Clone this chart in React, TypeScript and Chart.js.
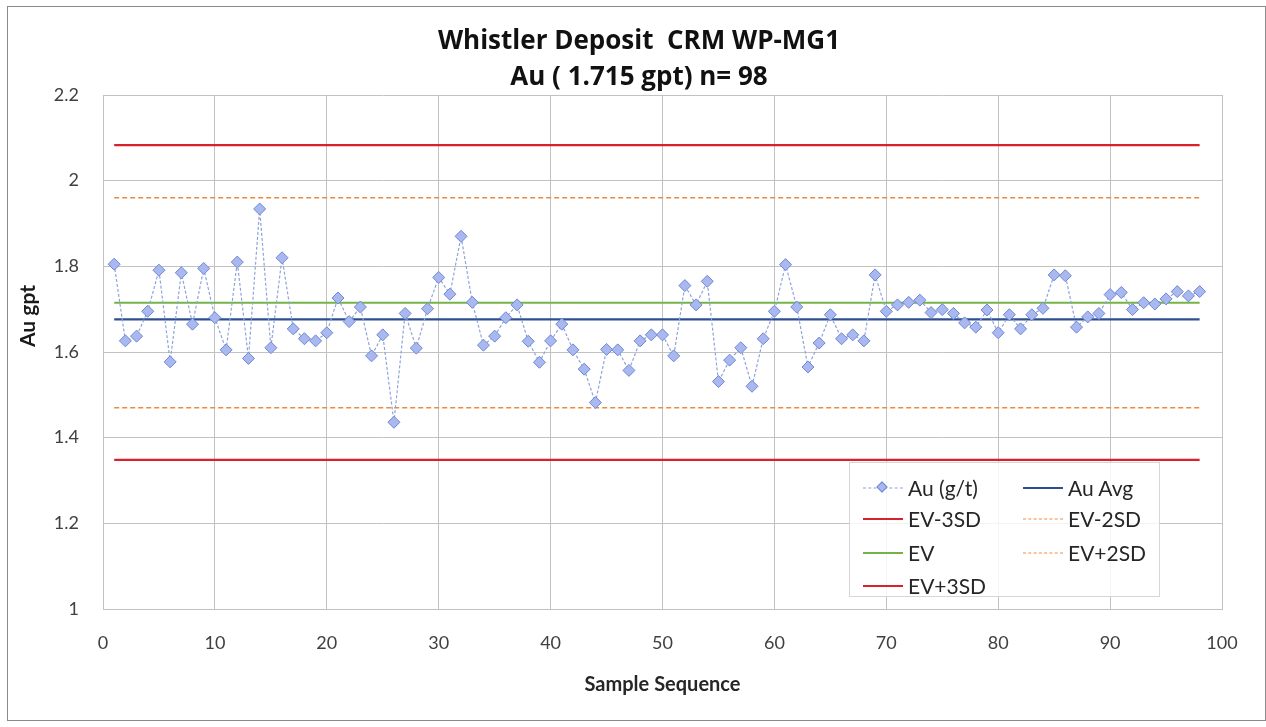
import React, { useEffect, useRef } from "react";
import { Chart, registerables } from "chart.js";
Chart.register(...registerables);

const chartTitle = ["Whistler Deposit  CRM WP-MG1", "Au ( 1.715 gpt) n= 98"];
const xAxisTitle = "Sample Sequence";
const yAxisTitle = "Au gpt";

const auValues = [
  1.805, 1.626, 1.637, 1.695, 1.791, 1.577, 1.785, 1.665, 1.795, 1.68,
  1.605, 1.81, 1.585, 1.934, 1.61, 1.82, 1.654, 1.631, 1.626, 1.645,
  1.726, 1.671, 1.705, 1.591, 1.64, 1.436, 1.69, 1.609, 1.701, 1.774,
  1.735, 1.87, 1.716, 1.616, 1.637, 1.68, 1.71, 1.625, 1.576, 1.626,
  1.665, 1.605, 1.56, 1.482, 1.606, 1.605, 1.557, 1.626, 1.64, 1.64,
  1.591, 1.755, 1.71, 1.765, 1.531, 1.581, 1.61, 1.52, 1.631, 1.695,
  1.804, 1.705, 1.565, 1.621, 1.687, 1.631, 1.64, 1.626, 1.78, 1.695,
  1.71, 1.716, 1.721, 1.692, 1.699, 1.69, 1.668, 1.658, 1.698, 1.645,
  1.687, 1.654, 1.687, 1.702, 1.78, 1.778, 1.658, 1.682, 1.69, 1.734,
  1.739, 1.699, 1.715, 1.712, 1.724, 1.741, 1.731, 1.741,
];

const refNames = ["Au Avg", "EV-3SD", "EV-2SD", "EV", "EV+2SD", "EV+3SD"];
const refValues = [1.676, 1.348, 1.47, 1.715, 1.96, 2.083];
const refColors = ["#2e4f8f", "#d9202c", "#f08a3c", "#74b347", "#f08a3c", "#d9202c"];
const refDashed = [false, false, true, false, true, false];

const yTicks = [1, 1.2, 1.4, 1.6, 1.8, 2, 2.2];
const xTicks = [0, 10, 20, 30, 40, 50, 60, 70, 80, 90, 100];

const FONT = "Lato, 'Open Sans', sans-serif";
const TITLE_FONT = "'Open Sans', Lato, sans-serif";

const textPlugin = {
  id: "customTexts",
  afterDraw(chart: any) {
    const ctx = chart.ctx;
    ctx.save();
    ctx.fillStyle = "#111111";
    ctx.textAlign = "center";
    ctx.textBaseline = "middle";
    ctx.font = `bold 26px ${TITLE_FONT}`;
    ctx.fillText(chartTitle[0], 639, 42);
    ctx.fillText(chartTitle[1], 639, 78);
    ctx.translate(28, 316);
    ctx.rotate(-Math.PI / 2);
    ctx.font = `bold 21px ${FONT}`;
    ctx.fillStyle = "#1a1a1a";
    ctx.fillText(yAxisTitle, 0, 0);
    ctx.restore();
  },
};

function LineSwatch({ color, dashed, width }: { color: string; dashed?: boolean; width: number }) {
  return (
    <div
      style={{
        position: "absolute",
        left: 0,
        top: 0,
        width: 40,
        height: 0,
        borderTop: `${width}px ${dashed ? "dashed" : "solid"} ${color}`,
        transform: `translateY(-${width / 2}px)`,
      }}
    />
  );
}

function LegendItem({ x, y, label, children }: { x: number; y: number; label: string; children: any }) {
  return (
    <div style={{ position: "absolute", left: x, top: y, height: 0 }}>
      <div style={{ position: "absolute", left: 0, top: 0, width: 40 }}>{children}</div>
      <div
        style={{
          position: "absolute",
          left: 45,
          top: -14,
          lineHeight: "28px",
          fontSize: 21,
          fontFamily: FONT,
          color: "#262626",
          whiteSpace: "nowrap",
        }}
      >
        {label}
      </div>
    </div>
  );
}

export default function App() {
  const canvasRef = useRef<HTMLCanvasElement | null>(null);

  useEffect(() => {
    if (!canvasRef.current) return;
    const firstX = 1;
    const lastX = auValues.length;
    const refDatasets = refNames.map((name, i) => ({
      label: name,
      data: [
        { x: firstX, y: refValues[i] },
        { x: lastX, y: refValues[i] },
      ],
      borderColor: refColors[i],
      backgroundColor: refColors[i],
      borderWidth: refDashed[i] ? 1.6 : 2.2,
      borderDash: refDashed[i] ? [5, 3] : [],
      pointRadius: 0,
      showLine: true,
      order: 2,
    }));
    const chart = new Chart(canvasRef.current, {
      type: "scatter",
      data: {
        datasets: [
          {
            label: "Au (g/t)",
            data: auValues.map((v, i) => ({ x: i + 1, y: v })),
            showLine: true,
            borderColor: "#8ea3da",
            borderWidth: 1.2,
            borderDash: [3, 2],
            pointStyle: "rectRot",
            pointRadius: 6,
            pointBackgroundColor: "#a9b9f0",
            pointBorderColor: "#6e86d4",
            pointBorderWidth: 1,
            order: 1,
          },
          ...refDatasets,
        ],
      },
      options: {
        animation: false,
        responsive: false,
        maintainAspectRatio: false,
        layout: { padding: { left: 0, right: 44, top: 95, bottom: 0 } },
        plugins: {
          legend: { display: false },
          tooltip: { enabled: false },
          title: { display: false },
        },
        scales: {
          x: {
            type: "linear",
            min: 0,
            max: 100,
            afterBuildTicks(scale: any) {
              scale.ticks = xTicks.map((v) => ({ value: v }));
            },
            afterFit(scale: any) {
              scale.height = 118;
            },
            grid: { color: "#c2c2c2", lineWidth: 1, drawTicks: false },
            border: { color: "#c2c2c2" },
            ticks: {
              padding: 23,
              color: "#404040",
              font: { family: FONT, size: 18 },
            },
            title: {
              display: true,
              text: xAxisTitle,
              color: "#262626",
              font: { family: FONT, size: 20, weight: "bold", lineHeight: "24px" },
              padding: { top: 0, bottom: 30 },
            },
          },
          y: {
            type: "linear",
            min: 1,
            max: 2.2,
            afterBuildTicks(scale: any) {
              scale.ticks = yTicks.map((v) => ({ value: v }));
            },
            afterFit(scale: any) {
              scale.width = 103;
            },
            grid: { color: "#c2c2c2", lineWidth: 1, drawTicks: false },
            border: { color: "#c2c2c2" },
            ticks: {
              padding: 24,
              color: "#404040",
              font: { family: FONT, size: 18 },
              callback: (v: any) => String(Number(Number(v).toFixed(1))),
            },
          },
        },
      },
      plugins: [textPlugin],
    } as any);
    return () => chart.destroy();
  }, []);

  return (
    <div style={{ position: "absolute", left: 0, top: 0, width: 1266, height: 727, background: "#fff" }}>
      <canvas ref={canvasRef} width={1266} height={727} style={{ position: "absolute", left: 0, top: 0 }} />
      <div
        style={{
          position: "absolute",
          left: 7,
          top: 6,
          width: 1259,
          height: 715,
          border: "1px solid #8a8a8a",
          boxSizing: "border-box",
          pointerEvents: "none",
        }}
      />
      <div
        style={{
          position: "absolute",
          left: 849,
          top: 462,
          width: 311,
          height: 135,
          border: "1px solid #d6d6d6",
          background: "rgba(255,255,255,0.82)",
          boxSizing: "border-box",
        }}
      >
        <LegendItem x={13} y={25} label="Au (g/t)">
          <LineSwatch color="#8ea3da" dashed width={1} />
          <div
            style={{
              position: "absolute",
              left: 15,
              top: -5,
              width: 8,
              height: 8,
              background: "#a9b9f0",
              border: "1px solid #6e86d4",
              transform: "rotate(45deg)",
              boxSizing: "border-box",
            }}
          />
        </LegendItem>
        <LegendItem x={173} y={25} label={refNames[0]}>
          <LineSwatch color={refColors[0]} width={2} />
        </LegendItem>
        <LegendItem x={13} y={56} label={refNames[1]}>
          <LineSwatch color={refColors[1]} width={2} />
        </LegendItem>
        <LegendItem x={173} y={56} label={refNames[2]}>
          <LineSwatch color={refColors[2]} dashed width={1} />
        </LegendItem>
        <LegendItem x={13} y={90} label={refNames[3]}>
          <LineSwatch color={refColors[3]} width={2} />
        </LegendItem>
        <LegendItem x={173} y={90} label={refNames[4]}>
          <LineSwatch color={refColors[4]} dashed width={1} />
        </LegendItem>
        <LegendItem x={13} y={123} label={refNames[5]}>
          <LineSwatch color={refColors[5]} width={2} />
        </LegendItem>
      </div>
    </div>
  );
}
